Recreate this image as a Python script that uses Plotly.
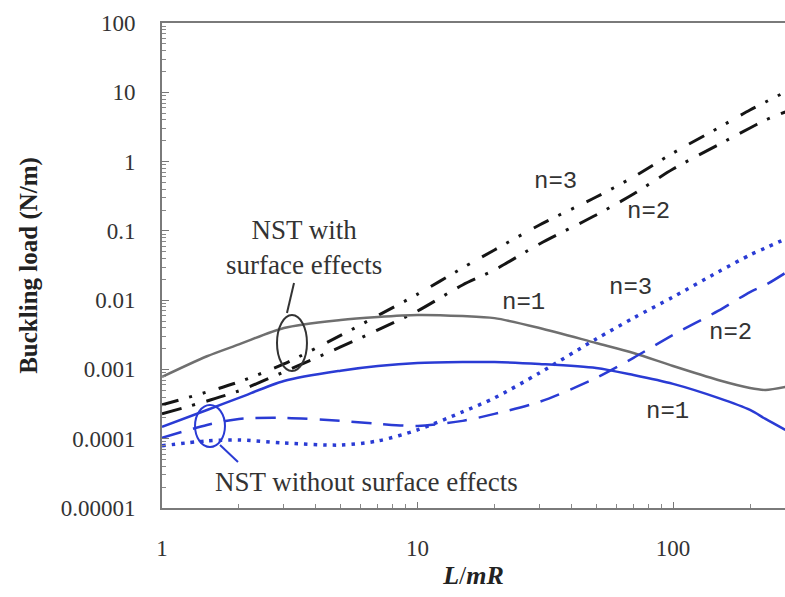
import plotly.graph_objects as go

# ---------------- data ----------------
L_mR = [1, 1.5, 2, 3, 5, 7, 10, 15, 20, 30, 50, 70, 100, 150, 200, 230, 275]

# NST with surface effects
with_n1 = [0.00078, 0.00155, 0.0023, 0.00397, 0.00518, 0.00573, 0.00612, 0.0059, 0.0055,
           0.00397, 0.00241, 0.00173, 0.00112, 0.000705, 0.00054, 0.000506, 0.000558]
with_n2 = [0.000228, 0.00035, 0.00049, 0.00092, 0.00211, 0.00372, 0.00698, 0.01656, 0.0273,
           0.0647, 0.1695, 0.34, 0.78, 1.74, 3.05, 3.98, 5.2]
with_n3 = [0.000308, 0.000473, 0.00066, 0.0012, 0.0031, 0.006, 0.0122, 0.0292, 0.053,
           0.1217, 0.308, 0.6, 1.33, 3.05, 5.55, 7.24, 10.1]

# NST without surface effects
without_n1 = [0.000148, 0.00026, 0.000388, 0.000682, 0.00096, 0.00112, 0.00124, 0.00128, 0.00128,
              0.0012, 0.00105, 0.00083, 0.000618, 0.000388, 0.00026, 0.000193, 0.000134]
without_n2 = [0.000103, 0.000158, 0.000193, 0.0002, 0.000181, 0.000164, 0.000153, 0.000181, 0.000228,
              0.00034, 0.000753, 0.00147, 0.00315, 0.00698, 0.0131, 0.01656, 0.0247]
without_n3 = [7.9e-5, 9.3e-5, 9.6e-5, 8.7e-5, 8.1e-5, 9.3e-5, 0.000134, 0.000244, 0.000388,
              0.00089, 0.00275, 0.00553, 0.0111, 0.0255, 0.0449, 0.0566, 0.0763]

y_tickvals = [1e-5, 1e-4, 1e-3, 1e-2, 1e-1, 1, 10, 100]
y_ticktext = ["0.00001", "0.0001", "0.001", "0.01", "0.1", "1", "10", "100"]
x_tickvals = [1, 10, 100]
x_ticktext = ["1", "10", "100"]

# ---------------- style ----------------
GRAY = "#6f6f6f"
BLUE = "#2a3bd4"
BLACK = "#151515"
TXT = "#333333"
SERIF = "Liberation Serif, Times New Roman, serif"
MONO = "Liberation Mono, Courier New, monospace"

fig = go.Figure()

def add(y, color, width, dash):
    fig.add_trace(go.Scatter(x=L_mR, y=y, mode="lines",
                             line=dict(color=color, width=width, dash=dash, shape="spline", smoothing=0.8),
                             showlegend=False, hoverinfo="skip"))

add(with_n3, BLACK, 3, "17px,11px,3px,11px,3px,14px")
add(with_n2, BLACK, 3, "20px,11px,3px,12px")
add(with_n1, GRAY, 2.5, "solid")
add(without_n3, BLUE, 3.5, "3.5px,6px")
add(without_n2, BLUE, 2.5, "20px,12px")
add(without_n1, BLUE, 2.5, "solid")

minor_x = [k * 10 ** d for d in range(0, 3) for k in range(2, 10)]
minor_y = [k * 10 ** d for d in range(-5, 2) for k in range(2, 10)]

fig.update_xaxes(type="log", range=[0, 2.438],
                 tickmode="array", tickvals=x_tickvals, ticktext=x_ticktext,
                 ticks="inside", ticklen=6, tickwidth=1, tickcolor="#777",
                 minor=dict(tickmode="array", tickvals=minor_x, ticks="inside", ticklen=4,
                            tickcolor="#888", showgrid=False),
                 showline=True, linecolor="#7a7a7a", linewidth=2, mirror=True,
                 showgrid=False, zeroline=False,
                 ticklabelstandoff=18,
                 tickfont=dict(family=SERIF, size=23, color=TXT),
                 title=dict(text="<b><i>L</i></b>/<b><i>mR</i></b>",
                            font=dict(family=SERIF, size=26, color="#222"), standoff=6))

fig.update_yaxes(type="log", range=[-5, 2],
                 tickmode="array", tickvals=y_tickvals, ticktext=y_ticktext,
                 ticks="inside", ticklen=7, tickwidth=1, tickcolor="#777",
                 minor=dict(tickmode="array", tickvals=minor_y, ticks="inside", ticklen=4,
                            tickcolor="#888", showgrid=False),
                 showline=True, linecolor="#7a7a7a", linewidth=2, mirror=False,
                 showgrid=False, zeroline=False,
                 ticklabelstandoff=20,
                 tickfont=dict(family=SERIF, size=23, color=TXT),
                 title=dict(text="<b>Buckling load (N/m)</b>",
                            font=dict(family=SERIF, size=25, color="#222"), standoff=16))

def label(text, lx, ly, color=TXT, size=24, family=MONO):
    fig.add_annotation(x=lx, y=ly, xref="x", yref="y", text=text, showarrow=False,
                       font=dict(family=family, size=size, color=color),
                       xanchor="center", yanchor="middle")

label("n=3", 1.538, -0.294)
label("n=2", 1.902, -0.727)
label("n=1", 1.413, -2.040)
label("n=3", 1.832, -1.824)
label("n=2", 2.223, -2.473)
label("n=1", 1.980, -3.613)
label("NST with<br>surface effects", 0.556, -1.247, size=27, family=SERIF)
label("NST without surface effects", 0.802, -4.623, size=27, family=SERIF)

# ellipses and pointer lines (paper coordinates of the plot area)
fig.add_shape(type="circle", xref="paper", yref="paper", x0=0.1846, x1=0.2327, y0=0.2825, y1=0.398,
              line=dict(color="#333", width=2))
fig.add_shape(type="line", xref="paper", yref="paper", x0=0.2006, y0=0.402, x1=0.2119, y1=0.4639,
              line=dict(color="#333", width=2))
fig.add_shape(type="circle", xref="paper", yref="paper", x0=0.053, x1=0.1011, y0=0.1258, y1=0.2124,
              line=dict(color=BLUE, width=2))
fig.add_shape(type="line", xref="paper", yref="paper", x0=0.0931, y0=0.1299, x1=0.122, y1=0.0948,
              line=dict(color=BLUE, width=2))

fig.update_layout(width=785, height=597,
                  margin=dict(l=162, r=0, t=23, b=89, autoexpand=False),
                  paper_bgcolor="white", plot_bgcolor="white")

fig.write_html("out.html")
